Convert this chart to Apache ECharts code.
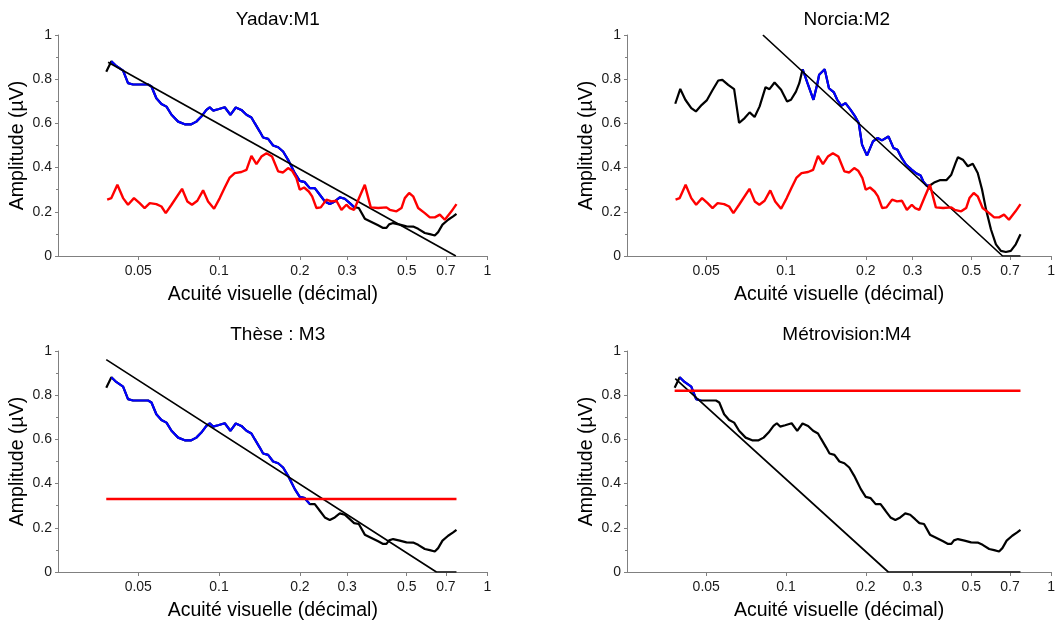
<!DOCTYPE html>
<html><head><meta charset="utf-8">
<script src="https://cdn.jsdelivr.net/npm/echarts@6/dist/echarts.min.js"></script>
<style>html,body{margin:0;padding:0;background:#fff}#c{width:1058px;height:625px}</style>
</head><body><div id="c"></div>
<script>
// ---------- data ----------
const xTickLabels = ['0.05','0.1','0.2','0.3','0.5','0.7','1'];
const yTickLabels = ['0','0.2','0.4','0.6','0.8','1'];
const panelTitles = ['Yadav:M1','Norcia:M2','Thèse : M3','Métrovision:M4'];
const xAxisName = 'Acuité visuelle (décimal)';
const yAxisName = 'Amplitude (µV)';

// response curve (panels M1, M3, M4)
const mainAcuity = [0.0380,0.0397,0.0414,0.0439,0.0458,0.0478,0.0544,0.0560,0.0584,0.0610,
  0.0637,0.0665,0.0704,0.0745,0.0788,0.0823,0.0859,0.0897,0.0923,0.0950,
  0.0992,0.1050,0.1102,0.1154,0.1211,0.1265,0.1320,0.1358,0.1418,0.1459,
  0.1523,0.1590,0.1660,0.1732,0.1808,0.1861,0.1915,0.1998,0.2086,0.2178,
  0.2273,0.2373,0.2477,0.2585,0.2698,0.2817,0.2940,0.3069,0.3185,0.3316,
  0.3491,0.3696,0.3913,0.4085,0.4203,0.4300,0.4451,0.4712,0.4990,0.5285,
  0.5516,0.5841,0.6097,0.6364,0.6549,0.6797,0.7135,0.7448,0.7664];
const mainAmp = [0.834,0.881,0.860,0.839,0.782,0.776,0.776,0.767,0.714,0.688,
  0.676,0.639,0.608,0.596,0.596,0.608,0.631,0.661,0.673,0.658,
  0.664,0.673,0.639,0.672,0.661,0.639,0.627,0.601,0.563,0.536,
  0.530,0.500,0.492,0.473,0.435,0.405,0.375,0.340,0.334,0.307,
  0.307,0.277,0.247,0.235,0.247,0.265,0.259,0.239,0.221,0.217,
  0.169,0.154,0.139,0.127,0.127,0.143,0.149,0.142,0.134,0.133,
  0.123,0.104,0.099,0.093,0.108,0.142,0.164,0.179,0.191];

// response curve (panel M2)
const norciaAcuity = [0.0382,0.0399,0.0417,0.0439,0.0457,0.0481,0.0502,0.0527,0.0555,0.0575,
  0.0605,0.0637,0.0665,0.0698,0.0729,0.0761,0.0795,0.0837,0.0866,0.0905,
  0.0958,0.1009,0.1044,0.1090,0.1122,0.1155,0.1205,0.1269,0.1314,0.1333,
  0.1399,0.1452,0.1516,0.1560,0.1615,0.1676,0.1750,0.1827,0.1880,0.1935,
  0.2020,0.2128,0.2216,0.2300,0.2435,0.2542,0.2632,0.2731,0.2835,0.2977,
  0.3108,0.3218,0.3293,0.3388,0.3487,0.3640,0.3801,0.4025,0.4202,0.4362,
  0.4451,0.4646,0.4851,0.5064,0.5287,0.5488,0.5681,0.5931,0.6192,0.6465,
  0.6749,0.7046,0.7356,0.7664];
const norciaAmp = [0.689,0.756,0.707,0.669,0.654,0.684,0.704,0.749,0.794,0.797,
  0.774,0.755,0.602,0.624,0.650,0.629,0.677,0.764,0.755,0.785,
  0.752,0.699,0.707,0.744,0.782,0.845,0.782,0.707,0.782,0.820,
  0.845,0.759,0.740,0.707,0.680,0.692,0.662,0.629,0.602,0.504,
  0.454,0.519,0.534,0.523,0.541,0.489,0.481,0.444,0.414,0.391,
  0.373,0.364,0.338,0.319,0.319,0.334,0.343,0.343,0.368,0.421,
  0.447,0.436,0.406,0.417,0.376,0.301,0.211,0.120,0.053,0.023,
  0.018,0.023,0.053,0.098];

// noise curve (panels M1, M2)
const noiseAcuity = [0.0383,0.0397,0.0418,0.0439,0.0458,0.0482,0.0506,0.0528,0.0552,0.0584,
  0.0610,0.0633,0.0665,0.0728,0.0762,0.0793,0.0830,0.0872,0.0910,0.0958,
  0.1006,0.1050,0.1096,0.1144,0.1211,0.1265,0.1320,0.1378,0.1438,0.1502,
  0.1575,0.1660,0.1732,0.1808,0.1871,0.1942,0.1998,0.2074,0.2159,0.2222,
  0.2306,0.2393,0.2512,0.2622,0.2737,0.2857,0.2982,0.3069,0.3185,0.3344,
  0.3491,0.3674,0.3913,0.4203,0.4325,0.4580,0.4781,0.4920,0.5106,0.5285,
  0.5516,0.5841,0.6097,0.6364,0.6644,0.6934,0.7341,0.7664];
const noiseAmp = [0.255,0.262,0.322,0.262,0.232,0.262,0.239,0.217,0.239,0.235,
  0.224,0.194,0.232,0.304,0.247,0.232,0.250,0.297,0.247,0.214,
  0.262,0.310,0.355,0.375,0.380,0.390,0.453,0.416,0.450,0.465,
  0.450,0.383,0.378,0.398,0.386,0.352,0.300,0.310,0.292,0.270,
  0.217,0.220,0.255,0.247,0.250,0.209,0.232,0.217,0.209,0.270,
  0.322,0.220,0.217,0.220,0.209,0.202,0.217,0.262,0.285,0.270,
  0.217,0.194,0.175,0.175,0.187,0.164,0.202,0.235];

// noise thresholds (panels M3, M4)
const noiseLevelM3 = 0.33;
const noiseLevelM4 = 0.82;

// regression lines
const regAcuityM1 = [0.0386, 0.762];        const regAmpM1 = [0.877, 0];
const regAcuityM2 = [0.0818, 0.656, 0.7664]; const regAmpM2 = [1.0, 0, 0];
const regAcuityM3 = [0.0380, 0.645, 0.7664]; const regAmpM3 = [0.961, 0, 0];
const regAcuityM4 = [0.0382, 0.243, 0.7664]; const regAmpM4 = [0.875, 0, 0];

// fitted (blue) ranges, in acuity
const blueRangeM1 = [0.0397, 0.3185];
const blueRangeM2 = [0.1155, 0.3487];
const blueRangeM3 = [0.0397, 0.2178];
const blueRangeM4 = [0.0397, 0.0478];

// ---------- chart ----------
const FONT = "'Liberation Sans', Arial, sans-serif";
const lg = v => Math.log10(v);
const pts = (xs, ys) => xs.map((x, i) => [lg(x), ys[i]]);
const sub = (xs, ys, r) => xs.map((x, i) => [x, ys[i]])
  .filter(p => p[0] >= r[0] - 1e-9 && p[0] <= r[1] + 1e-9).map(p => [lg(p[0]), p[1]]);
const hline = (xs, level) => [[lg(xs[0]), level], [lg(xs[xs.length - 1]), level]];

const xTickVals = xTickLabels.map(s => lg(parseFloat(s)));

const panels = [
  {cx: mainAcuity, cy: mainAmp, blue: blueRangeM1, red: pts(noiseAcuity, noiseAmp), rx: regAcuityM1, ry: regAmpM1},
  {cx: norciaAcuity, cy: norciaAmp, blue: blueRangeM2, red: pts(noiseAcuity, noiseAmp), rx: regAcuityM2, ry: regAmpM2},
  {cx: mainAcuity, cy: mainAmp, blue: blueRangeM3, red: hline(mainAcuity, noiseLevelM3), rx: regAcuityM3, ry: regAmpM3},
  {cx: mainAcuity, cy: mainAmp, blue: blueRangeM4, red: hline(mainAcuity, noiseLevelM4), rx: regAcuityM4, ry: regAmpM4}
];
const layout = [{left: 58, top: 35}, {left: 627, top: 35}, {left: 58, top: 351}, {left: 627, top: 351}];
const W = 429.5, H = 221;
const titleTop = [5, 320];

const grid = [], xAxis = [], yAxis = [], title = [], series = [];
panels.forEach((p, i) => {
  const g = layout[i];
  grid.push({left: g.left, top: g.top, width: W, height: H, containLabel: false});
  title.push({
    text: panelTitles[i], left: g.left + W / 2, top: titleTop[i < 2 ? 0 : 1], textAlign: 'center',
    textStyle: {fontFamily: FONT, fontSize: 19, fontWeight: 'normal', color: '#000'}
  });
  xAxis.push({
    gridIndex: i, type: 'value', min: -1.6, max: 0,
    axisLine: {show: true, onZero: false, lineStyle: {color: '#808080', width: 1}},
    axisTick: {show: true, customValues: xTickVals, length: 4, lineStyle: {color: '#808080'}},
    axisLabel: {
      customValues: xTickVals, fontFamily: FONT, fontSize: 14, color: '#1a1a1a', margin: 8,
      formatter: v => { const k = xTickVals.findIndex(t => Math.abs(t - v) < 1e-6); return k >= 0 ? xTickLabels[k] : ''; }
    },
    splitLine: {show: false},
    name: xAxisName, nameLocation: 'middle', nameGap: 29,
    nameTextStyle: {fontFamily: FONT, fontSize: 19.5, color: '#000'}
  });
  yAxis.push({
    gridIndex: i, type: 'value', min: 0, max: 1, interval: 0.2, position: 'left',
    axisLine: {show: true, onZero: false, lineStyle: {color: '#808080', width: 1}},
    axisTick: {show: true, length: 3, lineStyle: {color: '#808080'}},
    minorTick: {show: true, splitNumber: 2, length: 2, lineStyle: {color: '#808080'}},
    splitLine: {show: false}, minorSplitLine: {show: false},
    axisLabel: {
      fontFamily: FONT, fontSize: 14, color: '#1a1a1a', margin: 6,
      formatter: v => yTickLabels[Math.round(v / 0.2)]
    },
    name: yAxisName, nameLocation: 'middle', nameGap: 30,
    nameTextStyle: {fontFamily: FONT, fontSize: 19.5, color: '#000'}
  });
  const base = {type: 'line', xAxisIndex: i, yAxisIndex: i, symbol: 'none', silent: true, animation: false};
  series.push(Object.assign({}, base, {data: pts(p.cx, p.cy), lineStyle: {color: '#000', width: 2.2}, z: 2}));
  series.push(Object.assign({}, base, {data: sub(p.cx, p.cy, p.blue), lineStyle: {color: '#0000ff', width: 2.2}, z: 3}));
  series.push(Object.assign({}, base, {data: pts(p.rx, p.ry), lineStyle: {color: '#000', width: 1.7}, z: 4}));
  series.push(Object.assign({}, base, {data: p.red, lineStyle: {color: '#ff0000', width: 2.4}, z: 5}));
});

const chart = echarts.init(document.getElementById('c'), null, {renderer: 'canvas'});
chart.setOption({animation: false, backgroundColor: '#fff', title, grid, xAxis, yAxis, series});
</script>
</body></html>
